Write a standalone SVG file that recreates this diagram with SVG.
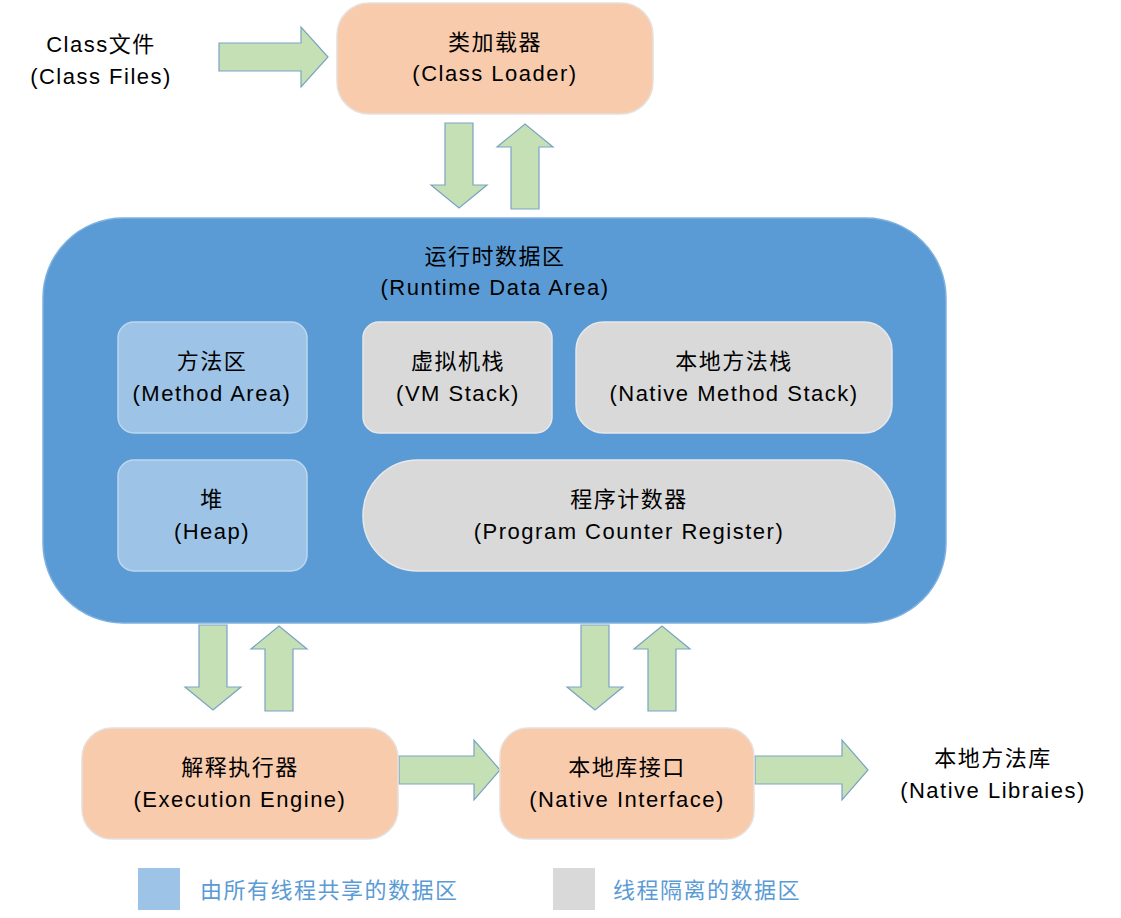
<svg xmlns="http://www.w3.org/2000/svg" width="1121" height="918" viewBox="0 0 1121 918">
<style>
text{font-family:"Liberation Sans","Noto Sans CJK SC",sans-serif;font-size:22px;text-anchor:middle;fill:#000;letter-spacing:1.5px}
.or{fill:#f8cbad;stroke:#e6e0dc;stroke-width:1.5}
.bl{fill:#9dc3e6;stroke:#bdd7ee;stroke-width:1.5}
.gr{fill:#d9d9d9;stroke:#e8e8e8;stroke-width:1.5}
.ar{fill:#c5e0b4;stroke:#7aa3c4;stroke-width:1.2}
</style>
<defs>
<path id="down" d="M-14,0 H14 V62 H28 L0,85 L-28,62 H-14 Z"/>
<path id="up" d="M-14,85 H14 V23 H28 L0,0 L-28,23 H-14 Z"/>
<path id="right" d="M0,-14 V14 H82 V30 L109,0 L82,-30 V-14 Z"/>
</defs>
<g id="connectors">
<use href="#right" class="ar" x="219" y="57"/>
<use href="#down" class="ar" x="459" y="123"/>
<use href="#up" class="ar" x="525" y="124"/>
<use href="#down" class="ar" x="213" y="625"/>
<use href="#up" class="ar" x="279" y="626"/>
<use href="#down" class="ar" x="595" y="625"/>
<use href="#up" class="ar" x="662" y="626"/>
<path class="ar" d="M399,756 V784 H474 V800 L500,770 L474,740 V756 Z"/>
<path class="ar" d="M755,756 V784 H842 V800 L868,770 L842,740 V756 Z"/>
</g>
<g id="classfiles"><text x="101" y="52">Class文件</text><text x="101" y="84">(Class Files)</text></g>
<g id="classloader"><rect class="or" x="337" y="3" width="316" height="111" rx="32"/><text x="495" y="50">类加载器</text><text x="495" y="81">(Class Loader)</text></g>
<g id="runtime"><rect x="43" y="218" width="903" height="405" rx="80" fill="#5b9bd5" stroke="#7fb1df" stroke-width="1.5"/><text x="495" y="264">运行时数据区</text><text x="495" y="295">(Runtime Data Area)</text></g>
<g id="method"><rect class="bl" x="118" y="322" width="189" height="111" rx="16"/><text x="212" y="369">方法区</text><text x="212" y="401">(Method Area)</text></g>
<g id="vmstack"><rect class="gr" x="363" y="322" width="189" height="111" rx="16"/><text x="458" y="369">虚拟机栈</text><text x="458" y="401">(VM Stack)</text></g>
<g id="nativestack"><rect class="gr" x="576" y="322" width="316" height="111" rx="28"/><text x="734" y="369">本地方法栈</text><text x="734" y="401">(Native Method Stack)</text></g>
<g id="heap"><rect class="bl" x="118" y="460" width="189" height="111" rx="16"/><text x="212" y="507">堆</text><text x="212" y="539">(Heap)</text></g>
<g id="pc"><rect class="gr" x="363" y="460" width="532" height="111" rx="55"/><text x="629" y="507">程序计数器</text><text x="629" y="539">(Program Counter Register)</text></g>
<g id="engine"><rect class="or" x="82" y="728" width="316" height="111" rx="30"/><text x="240" y="775">解释执行器</text><text x="240" y="807">(Execution Engine)</text></g>
<g id="nativeif"><rect class="or" x="500" y="728" width="254" height="111" rx="28"/><text x="627" y="775">本地库接口</text><text x="627" y="807">(Native Interface)</text></g>
<g id="nativelib"><text x="993" y="766">本地方法库</text><text x="993" y="798">(Native Libraies)</text></g>
<g id="legend">
<rect x="138" y="868" width="42" height="42" fill="#9dc3e6"/>
<text x="200" y="898" style="text-anchor:start;fill:#5b9bd5">由所有线程共享的数据区</text>
<rect x="553" y="868" width="42" height="42" fill="#d9d9d9"/>
<text x="613" y="898" style="text-anchor:start;fill:#5b9bd5">线程隔离的数据区</text>
</g>
</svg>
